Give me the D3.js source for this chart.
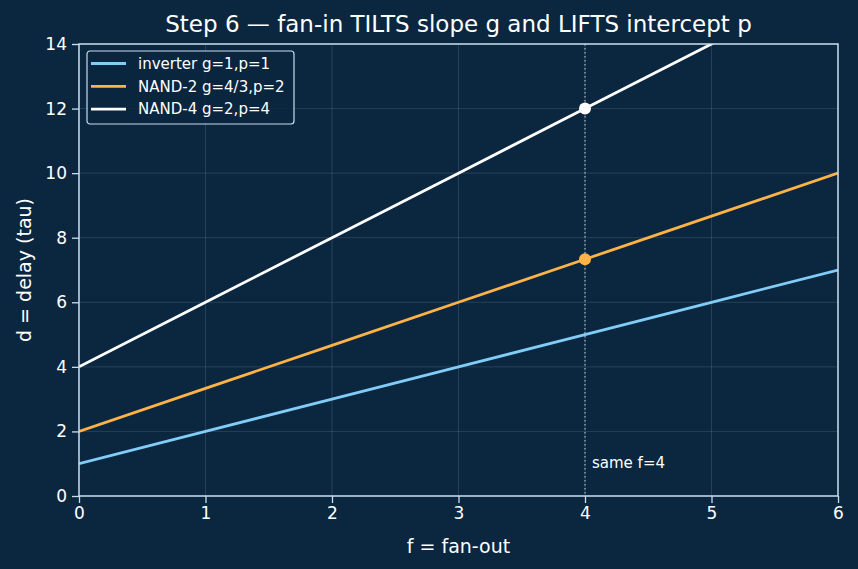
<!DOCTYPE html>
<html><head><meta charset="utf-8">
<script src="https://cdn.jsdelivr.net/npm/d3@7"></script>
<style>body{margin:0;background:#0b2740;}svg{display:block;font-family:"DejaVu Sans",sans-serif;}</style>
</head><body><svg id="c" width="858" height="569"></svg>
<script>
const title = "Step 6 \u2014 fan-in TILTS slope g and LIFTS intercept p";
const xLabel = "f = fan-out";
const yLabel = "d = delay (tau)";
const seriesNames = ["inverter g=1,p=1", "NAND-2 g=4/3,p=2", "NAND-4 g=2,p=4"];
const seriesG = [1, 4/3, 2];
const seriesP = [1, 2, 4];
const seriesColors = ["#82cdf7", "#ffb347", "#ffffff"];
const fValues = [0, 1, 2, 3, 4, 5, 6];
const xTicks = [0, 1, 2, 3, 4, 5, 6];
const yTicks = [0, 2, 4, 6, 8, 10, 12, 14];
const markerF = 4;
const markerSeries = [1, 2];
const annotation = "same f=4";

const svg = d3.select("#c");
const W = 858, H = 569;
const m = {l: 79, r: 20, t: 44, b: 73};
const x = d3.scaleLinear().domain([0, 6]).range([m.l, W - m.r]);
const y = d3.scaleLinear().domain([0, 14]).range([H - m.b, m.t]);
const spine = "#c9dced";

svg.append("rect").attr("width", W).attr("height", H).attr("fill", "#0b2740");
svg.append("defs").append("clipPath").attr("id", "clip").append("rect")
  .attr("x", m.l).attr("y", m.t).attr("width", x(6) - m.l).attr("height", y(0) - m.t);

// grid
const g = svg.append("g");
g.selectAll(".gx").data(xTicks).join("line").attr("x1", d => x(d)).attr("x2", d => x(d))
  .attr("y1", m.t).attr("y2", y(0)).attr("stroke", "#ffffff").attr("stroke-opacity", 0.15).attr("stroke-width", 0.8);
g.selectAll(".gy").data(yTicks).join("line").attr("y1", d => y(d)).attr("y2", d => y(d))
  .attr("x1", m.l).attr("x2", x(6)).attr("stroke", "#ffffff").attr("stroke-opacity", 0.15).attr("stroke-width", 0.8);

// vertical dotted line
svg.append("line").attr("x1", x(markerF)).attr("x2", x(markerF)).attr("y1", m.t).attr("y2", y(0))
  .attr("stroke", spine).attr("stroke-width", 1.2).attr("stroke-dasharray", "1.5,2.5").attr("opacity", 0.8);
svg.append("text").attr("x", x(markerF) + 7).attr("y", y(1) + 4).attr("fill", "#ffffff")
  .attr("font-size", 15).text(annotation);

// lines
const line = d3.line().x(d => x(d[0])).y(d => y(d[1]));
const lg = svg.append("g").attr("clip-path", "url(#clip)");
seriesNames.forEach((n, i) => {
  const pts = fValues.map(f => [f, seriesG[i] * f + seriesP[i]]);
  lg.append("path").attr("d", line(pts)).attr("fill", "none").attr("stroke", seriesColors[i]).attr("stroke-width", 2.8);
});
markerSeries.forEach(i => {
  svg.append("circle").attr("cx", x(markerF)).attr("cy", y(seriesG[i] * markerF + seriesP[i])).attr("r", 6)
    .attr("fill", seriesColors[i]);
});

// axes
const xa = svg.append("g").attr("transform", `translate(0,${y(0)})`)
  .call(d3.axisBottom(x).tickValues(xTicks).tickFormat(d3.format("d")).tickSize(7).tickPadding(4));
const ya = svg.append("g").attr("transform", `translate(${m.l},0)`)
  .call(d3.axisLeft(y).tickValues(yTicks).tickFormat(d3.format("d")).tickSize(7).tickPadding(5));
[xa, ya].forEach(a => {
  a.select(".domain").remove();
  a.selectAll("line").attr("stroke", spine).attr("stroke-width", 1.3);
  a.selectAll("text").attr("fill", "#ffffff").attr("font-size", 17).attr("font-family", "DejaVu Sans");
});
svg.append("rect").attr("x", m.l).attr("y", m.t).attr("width", x(6) - m.l).attr("height", y(0) - m.t)
  .attr("fill", "none").attr("stroke", spine).attr("stroke-width", 1.5);

// labels
svg.append("text").attr("x", (m.l + x(6)) / 2).attr("y", 32).attr("text-anchor", "middle")
  .attr("fill", "#ffffff").attr("font-size", 23).text(title);
svg.append("text").attr("x", (m.l + x(6)) / 2).attr("y", 553).attr("text-anchor", "middle")
  .attr("fill", "#ffffff").attr("font-size", 19).text(xLabel);
svg.append("text").attr("transform", `translate(31,${(m.t + y(0)) / 2}) rotate(-90)`).attr("text-anchor", "middle")
  .attr("fill", "#ffffff").attr("font-size", 19).text(yLabel);

// legend
const leg = svg.append("g").attr("transform", "translate(87,51)");
leg.append("rect").attr("width", 207).attr("height", 73).attr("rx", 3).attr("fill", "#0b2740").attr("fill-opacity", 0.85)
  .attr("stroke", spine).attr("stroke-width", 1.2);
seriesNames.forEach((n, i) => {
  const yy = 12.5 + i * 22.8;
  leg.append("line").attr("x1", 4).attr("x2", 39).attr("y1", yy).attr("y2", yy).attr("stroke", seriesColors[i]).attr("stroke-width", 2.8);
  leg.append("text").attr("x", 51).attr("y", yy + 5.3).attr("fill", "#ffffff").attr("font-size", 15).text(n);
});
</script></body></html>
